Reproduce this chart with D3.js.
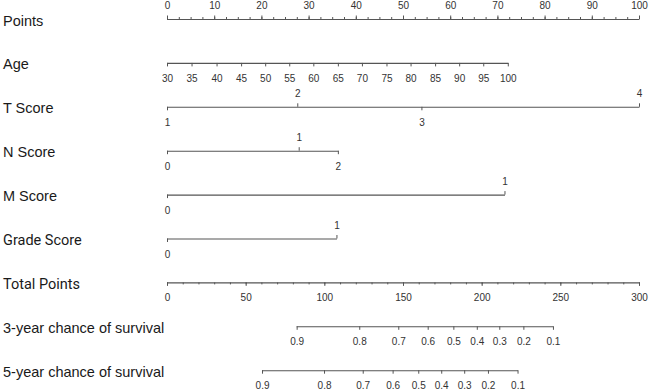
<!DOCTYPE html>
<html>
<head>
<meta charset="utf-8">
<script src="https://cdn.jsdelivr.net/npm/d3@7"></script>
<style>
  body { margin: 0; background: #fff; }
  text { font-family: "Liberation Sans", Arial, sans-serif; }
</style>
</head>
<body>
<svg id="chart"></svg>
<script>
// --- data ---
const pointTicks = [0, 10, 20, 30, 40, 50, 60, 70, 80, 90, 100];

const ageLevels = [30, 35, 40, 45, 50, 55, 60, 65, 70, 75, 80, 85, 90, 95, 100];
const agePoints = [0, 5.2, 10.5, 15.7, 20.8, 25.9, 31.0, 36.2, 41.3, 46.5, 51.6, 56.8, 61.9, 67.0, 72.2];

const tLevels = ['1', '2', '3', '4'];
const tPoints = [0, 27.6, 53.9, 100];

const nLevels = ['0', '1', '2'];
const nPoints = [0, 27.9, 36.2];

const mLevels = ['0', '1'];
const mPoints = [0, 71.5];

const gradeLevels = ['0', '1'];
const gradePoints = [0, 35.9];

const totalTicks = [0, 50, 100, 150, 200, 250, 300];

const survLabels = ['0.9', '0.8', '0.7', '0.6', '0.5', '0.4', '0.3', '0.2', '0.1'];
const surv3Total = [82.4, 122.2, 147.0, 165.7, 182.0, 196.9, 211.2, 226.5, 245.3];
const surv5Total = [60.4, 99.8, 124.4, 143.4, 159.7, 174.3, 188.9, 204.0, 222.8];

// --- layout ---
const width = 650, height = 392;
const left = 167, right = 639;
const rowTop = 19, rowStep = 43.9;
const lineColor = '#555';
const textColor = '#1a1a1a';

const svg = d3.select('#chart').attr('width', width).attr('height', height);

const xPoints = d3.scaleLinear().domain([0, 100]).range([left, right]);
const xTotal = d3.scaleLinear().domain([0, 300]).range([left, right]);

const rowY = i => rowTop + i * rowStep;

function styleAxis(g) {
  g.select('.domain').remove();
  g.attr('font-size', 10).attr('font-family', '"Liberation Sans", Arial, sans-serif');
  g.selectAll('.tick line').attr('stroke', lineColor);
  g.selectAll('.tick text').attr('fill', '#333');
}

// one nomogram row: base line, ticks + labels either above or below
function drawRow(i, scale, values, labels, sideOf, minorTicks) {
  const y = rowY(i);
  const g = svg.append('g').attr('transform', `translate(0,${y})`);
  const lab = new Map(values.map((v, k) => [v, labels[k]]));

  if (minorTicks) {
    const side = sideOf(0);
    const ax = (side === 'up' ? d3.axisTop(scale) : d3.axisBottom(scale))
      .tickValues(minorTicks).tickFormat('').tickSize(2).tickSizeOuter(0);
    g.append('g').call(ax).call(styleAxis);
  }

  const up = values.filter((v, k) => sideOf(k) === 'up');
  const down = values.filter((v, k) => sideOf(k) === 'down');

  if (up.length) {
    g.append('g')
      .call(d3.axisTop(scale).tickValues(up).tickFormat(d => lab.get(d))
        .tickSize(3.5).tickPadding(6.5).tickSizeOuter(0))
      .call(styleAxis);
  }
  if (down.length) {
    g.append('g')
      .call(d3.axisBottom(scale).tickValues(down).tickFormat(d => lab.get(d))
        .tickSize(3.5).tickPadding(8.4).tickSizeOuter(0))
      .call(styleAxis);
  }

  g.append('line')
    .attr('x1', scale(d3.min(values))).attr('x2', scale(d3.max(values)) + 0.5)
    .attr('y1', 0.5).attr('y2', 0.5)
    .attr('stroke', lineColor).attr('stroke-width', 1.1);
}

function rowLabel(i, text, font) {
  svg.append('text')
    .attr('x', 3).attr('y', rowY(i) + 6.5)
    .attr('font-size', 14.5)
    .attr('fill', textColor)
    .style('font-family', font || '"Liberation Sans", Arial, sans-serif')
    .text(text);
}

const alternate = k => (k % 2 === 0 ? 'down' : 'up');
const allUp = () => 'up';
const allDown = () => 'down';

// Points
drawRow(0, xPoints, pointTicks, pointTicks.map(String), allUp, d3.range(0, 100.1, 2.5));
rowLabel(0, 'Points');

// Age
drawRow(1, xPoints, agePoints, ageLevels.map(String), allDown);
rowLabel(1, 'Age');

// T Score
drawRow(2, xPoints, tPoints, tLevels, alternate);
rowLabel(2, 'T Score');

// N Score
drawRow(3, xPoints, nPoints, nLevels, alternate);
rowLabel(3, 'N Score');

// M Score
drawRow(4, xPoints, mPoints, mLevels, alternate);
rowLabel(4, 'M Score');

// Grade Score
drawRow(5, xPoints, gradePoints, gradeLevels, alternate);
rowLabel(5, 'Grade Score', 'Roboto, sans-serif');

// Total Points
drawRow(6, xTotal, totalTicks, totalTicks.map(String), allDown, d3.range(0, 300.1, 10));
rowLabel(6, 'Total Points', 'Roboto, sans-serif');

// survival probabilities
drawRow(7, xTotal, surv3Total, survLabels, allDown);
rowLabel(7, '3-year chance of survival');

drawRow(8, xTotal, surv5Total, survLabels, allDown);
rowLabel(8, '5-year chance of survival');
</script>
</body>
</html>
